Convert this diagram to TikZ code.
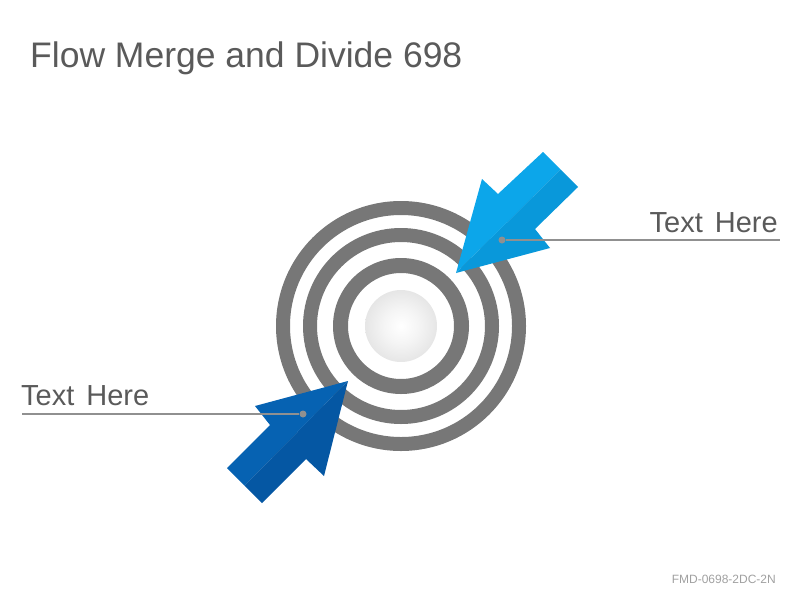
\documentclass[tikz,border=0pt]{standalone}
\usepackage{fontspec}
\setmainfont{Liberation Sans}
\usepackage{xcolor}
\usepackage{tikz}

\definecolor{ringgray}{HTML}{777777}
\definecolor{skylight}{HTML}{0CA6EA}
\definecolor{skydark}{HTML}{0998DA}
\definecolor{navylight}{HTML}{0662B2}
\definecolor{navydark}{HTML}{0557A3}
\definecolor{textgray}{HTML}{5A5A5A}
\definecolor{leadgray}{HTML}{909090}
\definecolor{codegray}{HTML}{A0A0A0}

\pgfdeclareradialshading{ballshade}{\pgfpoint{0bp}{0bp}}{color(0bp)=(white); color(12bp)=(white!96!black); color(32bp)=(black!13); color(50bp)=(black!23)}

\begin{document}
\begin{tikzpicture}[x=1pt, y=-1pt,
    txtlbl/.style={inner sep=0pt, text=textgray, font=\fontsize{29}{34}\selectfont},
    leader/.style={draw=leadgray, line width=2.8pt},
    leaddot/.style={circle, fill=leadgray, minimum size=7pt, inner sep=0pt}]
    \useasboundingbox (0,0) rectangle (800,600);

    \node[txtlbl, anchor=base west, font=\fontsize{35.5}{40}\selectfont] (title) at (30,67) {Flow Merge and Divide 698};

    % target
    \coordinate (ctr) at (401,326);
    \foreach \r/\w in {118/14, 91/14, 60.5/15}
        \draw[ringgray, line width=\w pt] (ctr) circle (\r pt);
    \shade[shading=ballshade] (ctr) circle (36pt);

    % top right arrow
    \fill[skylight] (456,273) -- (482,179) -- (498,194) -- (543,152) -- (560.5,169.5) -- cycle;
    \fill[skydark] (456,273) -- (560.5,169.5) -- (578,187) -- (535,229) -- (550,248) -- cycle;

    % bottom left arrow
    \fill[navylight] (348,381) -- (255,406) -- (270,425) -- (227,468) -- (244.5,485.5) -- cycle;
    \fill[navydark] (348,381) -- (244.5,485.5) -- (262,503) -- (306,459) -- (324,476) -- cycle;

    \node[leaddot] (rdot) at (502,240) {};
    \coordinate (rend) at (780,240);
    \draw[leader] (rdot) -- (rend);
    \node[txtlbl, anchor=base east] (rtext) at (778,232) {Text\hspace{4pt} Here};

    \node[leaddot] (ldot) at (303,414) {};
    \coordinate (lend) at (22,414);
    \draw[leader] (ldot) -- (lend);
    \node[txtlbl, anchor=base west] (ltext) at (21,405) {Text\hspace{4pt} Here};

    \node[anchor=base east, inner sep=0pt, text=codegray, font=\fontsize{12}{14}\selectfont] (code) at (776,583) {FMD-0698-2DC-2N};
\end{tikzpicture}
\end{document}
